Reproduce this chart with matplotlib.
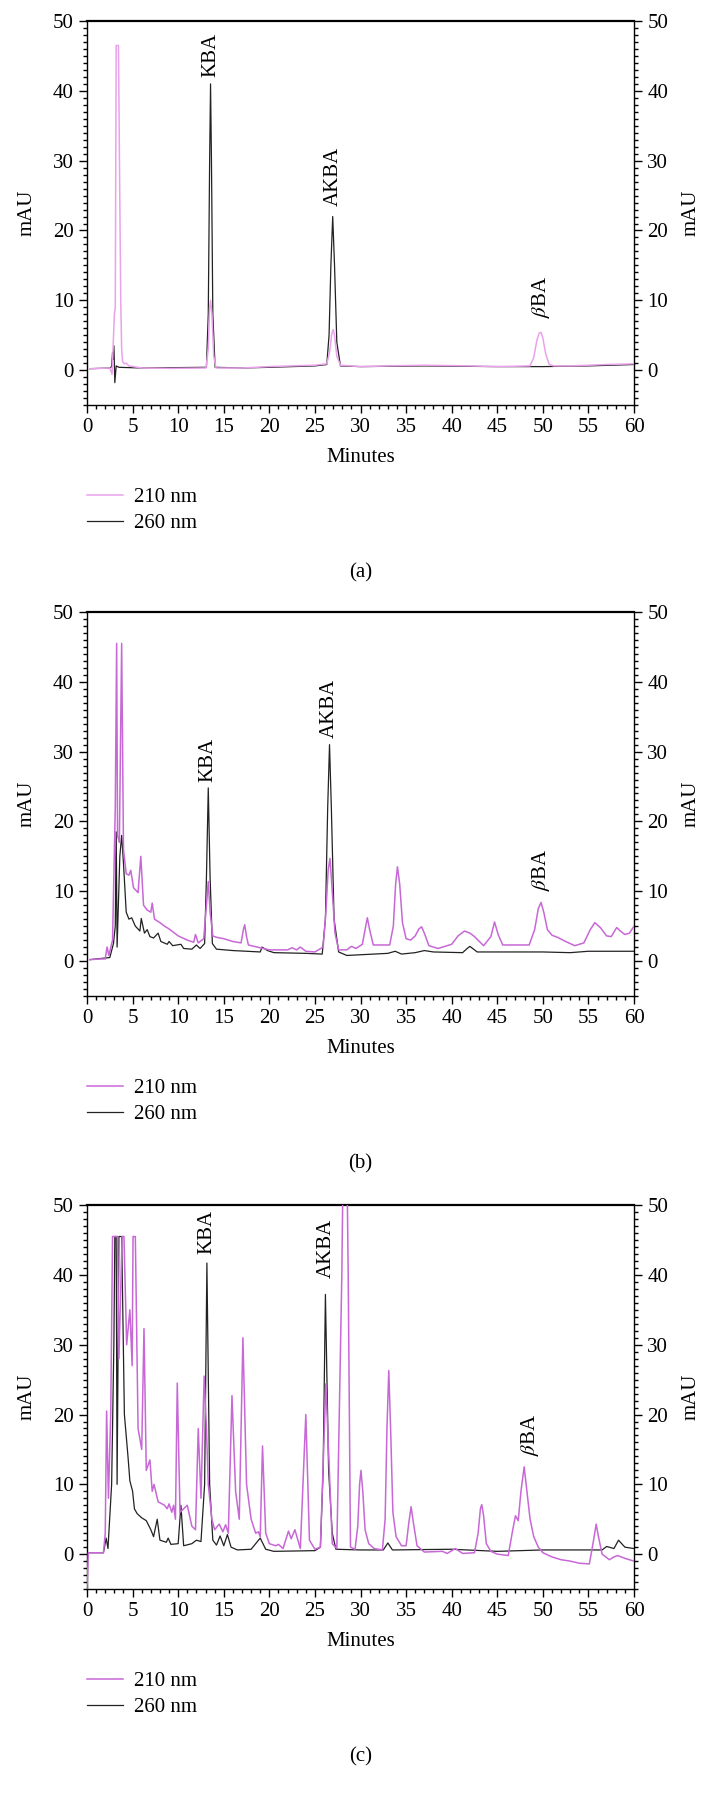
import matplotlib
matplotlib.use("Agg")
import matplotlib.pyplot as plt
from matplotlib.ticker import MultipleLocator

plt.rcParams['font.family'] = ['Liberation Serif', 'DejaVu Serif']
plt.rcParams['mathtext.fontset'] = 'stix'

# (a) standard mixture - vertices (minutes, mAU)
A_T_210 = [0.3, 1.5, 2.5, 2.75, 3.0, 3.1, 3.2, 3.45, 3.6, 3.7, 3.8, 3.9, 4.1, 4.3, 4.6, 6, 9, 13.05, 13.3, 13.45,
           13.55, 13.7, 13.9, 14.15, 17, 20, 25, 26.3, 26.6, 26.85, 27.0, 27.15, 27.4, 27.8, 30, 33, 37, 42, 45, 48.6,
           49.0, 49.35, 49.6, 49.8, 50.0, 50.3, 50.7, 51.2, 53, 57, 60]
A_Y_210 = [0.2, 0.25, 0.3, -0.6, 8, 9, 46.5, 46.5, 24, 10, 3, 1.2, 0.9, 1.0, 0.6, 0.3, 0.25, 0.3, 3, 9,
           10, 8, 2, 0.3, 0.3, 0.5, 0.7, 0.9, 2.5, 5.2, 5.8, 5.0, 2.0, 0.7, 0.5, 0.6, 0.7, 0.6, 0.5, 0.6,
           1.8, 4.3, 5.3, 5.4, 4.6, 2.4, 0.8, 0.6, 0.6, 0.8, 0.9]
A_T_260 = [0.3, 2.5, 2.7, 2.8, 2.85, 2.95, 3.05, 3.2, 3.5, 6, 13.1, 13.3, 13.45, 13.55, 13.65, 13.8, 14.05, 17, 20, 25,
           26.3, 26.55, 26.75, 26.95, 27.15, 27.4, 27.8, 30, 37, 45, 50, 55, 60]
A_Y_260 = [0.2, 0.3, 0.5, 2.5, 1.5, 3.5, -1.8, 0.6, 0.4, 0.3, 0.4, 8, 30, 41, 30, 8, 0.4, 0.3, 0.4, 0.6,
           0.8, 5, 15, 22, 15, 4, 0.6, 0.5, 0.6, 0.5, 0.5, 0.6, 0.8]

# (b)
B_T_210 = [0.3, 1.5, 2.0, 2.2, 2.4, 2.8, 3.1, 3.25, 3.35, 3.55, 3.8, 4.0, 4.3, 4.6, 4.8, 5.1, 5.6, 5.9, 6.2, 6.6,
           7.0, 7.15, 7.4, 8.0, 8.5, 9.0, 10, 11, 11.7, 11.9, 12.2, 12.8, 13.1, 13.3, 13.5, 13.8, 14.2, 15, 16, 16.9,
           17.15, 17.3, 17.5, 17.7, 19, 20, 22, 22.5, 23, 23.4, 24, 25, 25.9, 26.2, 26.45, 26.65, 26.9, 27.2, 27.6, 28.5,
           29, 29.5, 30.2, 30.5, 30.75, 31.0, 31.4, 33.2, 33.6, 33.85, 34.05, 34.3, 34.6, 35.0, 35.5, 36.0, 36.4, 36.7, 37.0, 37.5,
           38.5, 40, 40.7, 41.4, 42.0, 42.5, 43.5, 44.3, 44.7, 45.1, 45.6, 48.5, 49.1, 49.5, 49.8, 50.1, 50.5, 51.0, 51.6, 52.5,
           53.5, 54.5, 55.2, 55.7, 56.3, 57.0, 57.5, 58.1, 58.5, 59, 59.5, 60]
B_Y_210 = [0.2, 0.3, 0.3, 2.0, 0.8, 3.0, 22, 45.5, 18, 17, 45.5, 16, 12.5, 12.3, 13, 10.5, 9.8, 15, 8, 7.3,
           7.0, 8.3, 6, 5.5, 5.0, 4.6, 3.6, 3.0, 2.7, 3.8, 2.6, 3.2, 8, 11.4, 7, 3.6, 3.4, 3.2, 2.8, 2.6,
           4.5, 5.2, 3.5, 2.3, 1.9, 1.6, 1.6, 1.9, 1.6, 2.0, 1.4, 1.3, 2.0, 7, 13, 14.7, 10, 4, 1.6, 1.6,
           2.1, 1.8, 2.4, 4.5, 6.2, 4.5, 2.3, 2.3, 5, 11, 13.5, 11, 5.5, 3.2, 3.0, 3.6, 4.6, 4.9, 4.0, 2.2,
           1.8, 2.4, 3.6, 4.3, 4.0, 3.5, 2.2, 3.5, 5.6, 3.8, 2.3, 2.3, 4.5, 7.5, 8.4, 7.0, 4.5, 3.7, 3.4, 2.8,
           2.2, 2.6, 4.5, 5.5, 4.8, 3.6, 3.5, 4.8, 4.3, 3.8, 4.0, 5.0]
B_T_260 = [0.3, 2.5, 2.9, 3.1, 3.2, 3.3, 3.6, 3.8, 4.0, 4.3, 4.6, 4.9, 5.3, 5.8, 5.95, 6.3, 6.6, 6.9, 7.3, 7.8,
           8.1, 8.8, 9.0, 9.4, 10.3, 10.6, 11.5, 12.0, 12.4, 12.9, 13.1, 13.3, 13.5, 13.75, 14.2, 16, 19.0, 19.2, 19.8, 20.5,
           24, 25.8, 26.15, 26.4, 26.6, 26.8, 27.1, 27.6, 28.5, 30, 33, 33.8, 34.5, 36, 37, 38, 41.2, 41.7, 42.0, 42.4,
           42.8, 50, 53, 55, 60]
B_Y_260 = [0.2, 0.5, 2.5, 5, 18.5, 2, 15, 18, 14, 7, 6, 6.2, 5, 4.3, 6.1, 4, 4.5, 3.5, 3.3, 4,
           2.8, 2.4, 2.8, 2.2, 2.4, 1.8, 1.7, 2.3, 1.8, 2.5, 12, 24.8, 12, 2.5, 1.7, 1.5, 1.3, 2.0, 1.5, 1.2,
           1.1, 1.0, 6, 22, 31, 22, 6, 1.3, 0.8, 0.9, 1.1, 1.4, 1.0, 1.2, 1.5, 1.3, 1.2, 1.8, 2.1, 1.7,
           1.3, 1.3, 1.2, 1.4, 1.4]

# (c)
C_T_210 = [0.0, 0.15, 1.8, 2.0, 2.15, 2.35, 2.6, 2.8, 3.35, 3.5, 3.85, 4.05, 4.35, 4.7, 4.95, 5.05, 5.3, 5.6, 6.0, 6.25,
           6.5, 6.9, 7.15, 7.35, 7.8, 8.5, 8.8, 9.0, 9.3, 9.5, 9.7, 9.9, 10.2, 11.0, 11.5, 11.9, 12.2, 12.5, 12.85, 13.1,
           13.3, 13.7, 14.0, 14.5, 14.9, 15.2, 15.5, 15.9, 16.3, 16.7, 17.1, 17.5, 18.0, 18.5, 18.8, 19.0, 19.25, 19.6, 20.0, 20.7,
           21.0, 21.5, 22.1, 22.4, 22.8, 23.4, 24.0, 24.4, 25.0, 25.6, 26.2, 26.9, 27.4, 27.95, 28.3, 28.65, 28.9, 29.4, 29.7, 29.9,
           30.05, 30.25, 30.5, 30.9, 31.5, 32.4, 32.7, 32.9, 33.1, 33.3, 33.55, 33.9, 34.5, 35.0, 35.3, 35.55, 35.8, 36.2, 37, 39,
           39.5, 40.4, 41.2, 42.5, 42.9, 43.15, 43.3, 43.5, 43.8, 44.3, 45, 46.2, 46.7, 47.0, 47.3, 47.6, 47.95, 48.25, 48.6, 49.0,
           49.5, 50, 51, 52, 53, 54, 55.1, 55.5, 55.85, 56.1, 56.5, 57.3, 57.8, 58.2, 59, 60]
C_Y_210 = [-5, 0.2, 0.2, 3, 20.5, 8, 20, 45.5, 45.5, 28, 45.5, 45.5, 30, 35, 27, 45.5, 45.5, 18, 15, 32.3,
           12, 13.5, 9, 10, 7.5, 7, 6.5, 7.2, 6, 7, 5, 24.5, 6, 7, 4, 3.5, 18, 8, 25.5, 18,
           10, 5, 3.5, 4.3, 3.2, 4.2, 3, 22.7, 9, 5, 31, 10, 5, 3, 3.2, 2.5, 15.5, 3, 1.5, 1.2,
           1.4, 0.8, 3.3, 2.2, 3.5, 0.8, 20, 2, 0.7, 1, 24.4, 1.5, 0.8, 40, 80, 40, 1, 0.7, 4, 10,
           12, 9, 3.5, 1.5, 0.8, 0.6, 5, 18, 26.3, 18, 6, 2.5, 1.2, 1.2, 4.5, 6.8, 4.5, 1.2, 0.3, 0.4,
           0.1, 0.8, 0.1, 0.2, 3, 6.5, 7.1, 5.5, 1.5, 0.4, 0, -0.2, 3.5, 5.5, 4.8, 9, 12.5, 9, 5, 2.5,
           1.0, 0.2, -0.4, -0.8, -1.0, -1.3, -1.4, 1.5, 4.3, 2.5, 0, -0.8, -0.4, -0.2, -0.6, -1]
C_T_260 = [0.15, 1.8, 2.1, 2.3, 2.7, 2.95, 3.05, 3.2, 3.3, 3.5, 3.8, 4.1, 4.5, 4.7, 5.0, 5.2, 5.5, 6.0, 6.5, 7.0,
           7.3, 7.7, 8.0, 8.7, 8.9, 9.2, 10.0, 10.3, 10.6, 11.5, 12.0, 12.5, 12.9, 13.15, 13.45, 13.8, 14.2, 14.6, 15.0, 15.4,
           15.8, 16.5, 18.0, 19.0, 19.6, 20.5, 25.0, 25.6, 25.9, 26.15, 26.5, 26.9, 27.3, 30, 32.5, 33.0, 33.5, 40, 45, 50,
           56.5, 57.0, 57.8, 58.3, 59.0, 60]
C_Y_260 = [0.2, 0.2, 2.3, 0.8, 10, 30.5, 45.5, 45.5, 10, 45.5, 45.5, 20, 13.9, 10.5, 9, 6.5, 5.8, 5.2, 4.8, 3.5,
           2.5, 5, 2, 1.7, 2.3, 1.4, 1.5, 7, 1.2, 1.5, 2, 1.8, 10, 41.7, 10, 2, 1.3, 2.6, 1.2, 2.8,
           1, 0.6, 0.7, 2.3, 0.7, 0.4, 0.5, 1, 12, 37.2, 12, 3, 0.7, 0.6, 0.6, 1.6, 0.6, 0.7, 0.4, 0.6,
           0.6, 1.1, 0.8, 2, 1, 0.8]

# peak labels: (text, time, y of label bottom)
A_LABELS = [('KBA', 13.55, 42.0), ('AKBA', 27.0, 23.5), (r'$\it{\beta}$BA', 49.75, 7.5)]
B_LABELS = [('KBA', 13.3, 25.7), ('AKBA', 26.6, 32.0), (r'$\it{\beta}$BA', 49.8, 10.0)]
C_LABELS = [('KBA', 13.2, 43.0), ('AKBA', 26.3, 39.5), (r'$\it{\beta}$BA', 48.6, 14.0)]

PANELS = [
    ('(a)', 0.7750, A_T_210, A_Y_210, A_T_260, A_Y_260, A_LABELS, '#eaa2ec'),
    ('(b)', 0.4467, B_T_210, B_Y_210, B_T_260, B_Y_260, B_LABELS, '#c768d6'),
    ('(c)', 0.1172, C_T_210, C_Y_210, C_T_260, C_Y_260, C_LABELS, '#c768d6'),
]

FS = 15
fig = plt.figure(figsize=(7.08, 18), dpi=100)

for tag, bottom, t210, y210, t260, y260, labels, pink in PANELS:
    ax = fig.add_axes([0.1229, bottom, 0.7726, 0.2133])
    l260, = ax.plot(t260, y260, color='#222222', lw=0.9, label='260 nm', zorder=2)
    l210, = ax.plot(t210, y210, color=pink, lw=1.1, label='210 nm', zorder=3)
    ax.set_xlim(0, 60)
    ax.set_ylim(-5, 50)
    ax.xaxis.set_major_locator(MultipleLocator(5))
    ax.xaxis.set_minor_locator(MultipleLocator(1))
    ax.yaxis.set_major_locator(MultipleLocator(10))
    ax.yaxis.set_minor_locator(MultipleLocator(1))
    ax.tick_params(which='both', direction='out', labelsize=FS, width=1, top=False)
    ax.tick_params(which='major', length=6)
    ax.tick_params(which='minor', length=3)
    for s in ax.spines.values():
        s.set_linewidth(1.0)
    ax.spines['top'].set_linewidth(1.6)
    ax.set_xlabel('Minutes', fontsize=FS, labelpad=8)
    ax.set_ylabel('mAU', fontsize=FS, labelpad=12)

    # right-hand axis repeats the mAU scale
    ax2 = ax.twinx()
    ax2.set_ylim(-5, 50)
    ax2.yaxis.set_major_locator(MultipleLocator(10))
    ax2.yaxis.set_minor_locator(MultipleLocator(1))
    ax2.tick_params(which='both', direction='out', labelsize=FS, width=1)
    ax2.tick_params(which='major', length=6)
    ax2.tick_params(which='minor', length=3)
    ax2.set_ylabel('mAU', fontsize=FS, labelpad=10)
    for s in ax2.spines.values():
        s.set_visible(False)

    for txt, tx, ty in labels:
        ax.text(tx, ty, txt, rotation=90, ha='center', va='bottom', fontsize=FS)

    ax.legend(handles=[l210, l260], loc='upper left', bbox_to_anchor=(0.0, -0.215),
              frameon=False, fontsize=FS, handlelength=1.75, handletextpad=0.5,
              borderpad=0, borderaxespad=0, labelspacing=0.3)
    ax.text(0.5, -0.4375, tag, transform=ax.transAxes, ha='center', va='center', fontsize=FS)

fig.savefig('out.png', dpi=100)
